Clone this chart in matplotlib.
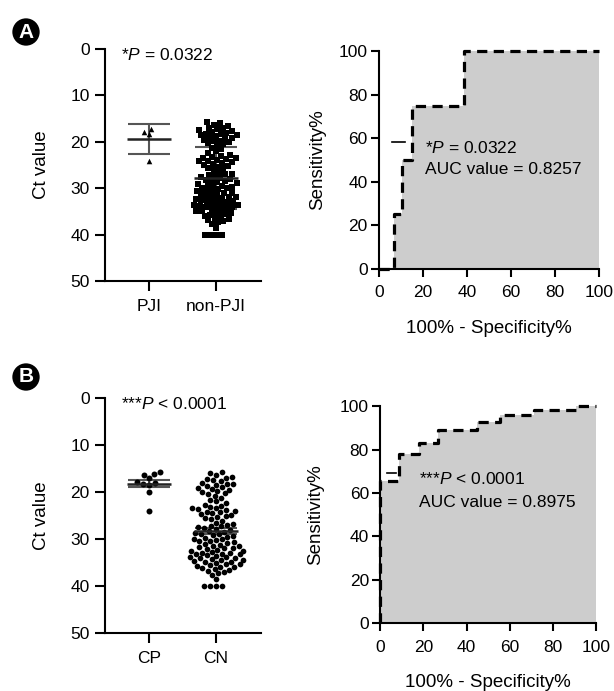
import numpy as np
import pandas as pd
import matplotlib
matplotlib.use("Agg")
import matplotlib.pyplot as plt
import seaborn as sns

# ---- data ----
# panel A, Ct values
pji_ct = [17.9, 17.2, 18.3, 24.1]
nonpji_ct = [15.8, 16.0, 16.3, 16.6,
             16.9, 17.1, 17.3, 17.5, 17.7, 17.9,
             18.0, 18.2, 18.3, 18.5, 18.6, 18.8,
             19.0, 19.2, 19.3, 19.5, 19.7, 19.9,
             20.1, 20.3, 20.5, 20.8,
             21.2, 21.6,
             22.0, 22.4, 22.8,
             23.0, 23.2, 23.4, 23.5, 23.7, 23.9,
             24.0, 24.2, 24.3, 24.5, 24.7, 24.9,
             25.1, 25.3, 25.6, 25.8,
             26.1, 26.5, 26.8,
             27.0, 27.2, 27.3, 27.5, 27.7, 27.9,
             28.1, 28.3, 28.5, 28.7, 28.9,
             29.0, 29.2, 29.4, 29.5, 29.7, 29.9,
             30.0, 30.2, 30.4, 30.5, 30.7, 30.9,
             31.0, 31.2, 31.4, 31.6, 31.8, 31.9,
             32.0, 32.1, 32.3, 32.5, 32.6, 32.8, 32.9,
             33.0, 33.2, 33.3, 33.5, 33.6, 33.8, 33.9,
             34.0, 34.1, 34.3, 34.4, 34.6, 34.8, 34.9,
             35.1, 35.3, 35.5, 35.7, 35.9,
             36.0, 36.3, 36.5, 36.8,
             37.0, 37.3, 37.6,
             38.5,
             40.0, 40.0, 40.0, 40.0]
# panel B, Ct values
cp_ct = [15.7, 16.2, 16.3, 17.0, 17.9, 18.1, 18.3, 18.5, 20.0, 24.0]
cn_ct = [15.8, 16.0, 16.3,
         16.9, 17.1, 17.3, 17.5, 17.7,
         18.0, 18.2, 18.3, 18.5, 18.7,
         19.0, 19.2, 19.3, 19.6, 19.7,
         20.1, 20.3, 20.5, 20.8,
         21.2, 21.6,
         22.0, 22.4, 22.8,
         23.0, 23.2, 23.4, 23.5, 23.7, 23.9,
         24.0, 24.2, 24.3, 24.5, 24.7, 24.9,
         25.1, 25.3, 25.6, 25.8,
         26.1, 26.5, 26.8,
         27.0, 27.2, 27.3, 27.5, 27.7, 27.9,
         28.1, 28.3, 28.5, 28.7, 28.9,
         29.0, 29.2, 29.4, 29.5, 29.7, 29.9,
         30.0, 30.2, 30.4, 30.5, 30.7, 30.9,
         31.0, 31.2, 31.4, 31.6, 31.8, 31.9,
         32.0, 32.1, 32.3, 32.5, 32.6, 32.8, 32.9,
         33.0, 33.1, 33.2, 33.3, 33.5, 33.6, 33.8, 33.9,
         34.0, 34.1, 34.3, 34.4, 34.5, 34.6, 34.8, 34.9,
         35.1, 35.3, 35.4, 35.5, 35.7, 35.9,
         36.0, 36.2, 36.3, 36.5, 36.8,
         37.0, 37.3, 37.6,
         38.5,
         40.0, 40.0, 40.0, 40.0]

groups_a = ["PJI", "non-PJI"]
groups_b = ["CP", "CN"]

# ROC curves (100% - specificity, sensitivity), step points
roc_a_fpr = [0, 6.9, 10.6, 14.9, 38.8, 100]
roc_a_tpr = [0, 25, 50, 75, 100, 100]
roc_b_fpr = [0, 0, 8.9, 18.2, 27.0, 44.8, 55.6, 71.0, 90.6, 100]
roc_b_tpr = [0, 65.7, 78.2, 83.3, 89.3, 92.8, 96.2, 98.2, 100, 100]
# little legend ticks left of the text
mark_a_x, mark_a_y = [5.8, 11.8], [58.4, 58.4]
mark_b_x, mark_b_y = [3.1, 7.4], [69.3, 69.3]

p_a = r"*$P$ = 0.0322"
p_b = r"***$P$ < 0.0001"
auc_a = "AUC value = 0.8257"
auc_b = "AUC value = 0.8975"

plt.rcParams['font.family'] = ['Liberation Sans', 'DejaVu Sans']
plt.rcParams['mathtext.fontset'] = 'custom'
plt.rcParams['mathtext.rm'] = 'Liberation Sans'
plt.rcParams['mathtext.it'] = 'Liberation Sans:italic'


def style_axis(ax, ticklen):
    for s in ['top', 'right']:
        ax.spines[s].set_visible(False)
    for s in ['left', 'bottom']:
        ax.spines[s].set_linewidth(1.5)
    ax.tick_params(width=1.5, length=ticklen, labelsize=12.5, color='black')


def dot_panel(ax, names, groups, markers, sizes, err_kind, ptext):
    df = pd.DataFrame({'g': np.repeat(names, [len(v) for v in groups]),
                       'ct': np.concatenate(groups)})
    for name, mk, sz in zip(names, markers, sizes):
        sns.swarmplot(data=df[df.g == name], x='g', y='ct', order=names,
                      marker=mk, size=sz, color='black', linewidth=0,
                      ax=ax, zorder=3)
    for i, vals in enumerate(groups):
        m = np.mean(vals)
        sd = np.std(vals, ddof=1)
        e = sd if err_kind == 'sd' else sd / np.sqrt(len(vals))
        ax.errorbar(i, m, yerr=e, color='#555555', lw=1.5, capsize=15,
                    capthick=1.5, zorder=2)
        ax.hlines(m, i - 0.33, i + 0.33, color='#222222', lw=1.8, zorder=4)
    ax.set_xlim(-0.66, 1.67)
    ax.set_ylim(50, 0)
    ax.set_yticks([0, 10, 20, 30, 40, 50])
    ax.set_xticks([0, 1])
    ax.set_xticklabels(names)
    style_axis(ax, 7)
    ax.tick_params(axis='y', pad=4)
    ax.tick_params(axis='x', pad=6)
    ax.set_xlabel('')
    ax.set_ylabel('Ct value', fontsize=13.5)
    ax.yaxis.label.set_va('center')
    ax.yaxis.set_label_coords(-0.404, 0.5)
    ax.text(0.105, 0.974, ptext, transform=ax.transAxes, fontsize=12.5,
            ha='left', va='center')


def roc_panel(ax, fpr, tpr, mx, my, ptext, auc, tx, ty1, ty2, ylab_x):
    ax.fill_between(fpr, tpr, step='post', color='#cdcdcd', lw=0, zorder=1)
    ax.plot(fpr, tpr, drawstyle='steps-post', color='black', lw=2.3,
            ls=(0, (3.2, 2.0)), zorder=3, clip_on=False)
    ax.plot(mx, my, color='black', lw=1.2, zorder=3)
    ax.set_xlim(0, 100)
    ax.set_ylim(0, 100)
    ax.set_xticks(range(0, 101, 20))
    ax.set_yticks(range(0, 101, 20))
    style_axis(ax, 6)
    ax.tick_params(axis='y', pad=2)
    ax.tick_params(axis='x', pad=6)
    ax.set_xlabel('100% - Specificity%', fontsize=13.5)
    ax.xaxis.label.set_va('center')
    ax.xaxis.set_label_coords(0.5, -0.272)
    ax.set_ylabel('Sensitivity%', fontsize=13.5)
    ax.yaxis.label.set_va('center')
    ax.yaxis.set_label_coords(ylab_x, 0.5)
    ax.text(tx, ty1, ptext, fontsize=12.5, ha='left', va='center', zorder=5)
    ax.text(tx, ty2, auc, fontsize=12.5, ha='left', va='center', zorder=5)


fig = plt.figure(figsize=(6.14, 6.91), dpi=100)
axA1 = fig.add_axes([0.171, 0.593, 0.254, 0.336])
axA2 = fig.add_axes([0.617, 0.611, 0.358, 0.315])
axB1 = fig.add_axes([0.171, 0.084, 0.254, 0.340])
axB2 = fig.add_axes([0.619, 0.098, 0.352, 0.314])

dot_panel(axA1, groups_a, [pji_ct, nonpji_ct], ['^', 's'], [4.0, 3.9], 'sd', p_a)
dot_panel(axB1, groups_b, [cp_ct, cn_ct], ['o', 'o'], [4.3, 4.1], 'sem', p_b)

roc_panel(axA2, roc_a_fpr, roc_a_tpr, mark_a_x, mark_a_y, p_a, auc_a,
          21, 55.5, 45.4, -0.277)
roc_panel(axB2, roc_b_fpr, roc_b_tpr, mark_b_x, mark_b_y, p_b, auc_b,
          18, 66.4, 55.8, -0.296)

for lab, y in [('A', 1 - 32 / 691), ('B', 1 - 377 / 691)]:
    fig.text(26 / 614, y, lab, color='white', fontsize=15, fontweight='bold',
             ha='center', va='center',
             bbox=dict(boxstyle='circle,pad=0.2', fc='black', ec='none'))

fig.savefig('out.png', dpi=100)
